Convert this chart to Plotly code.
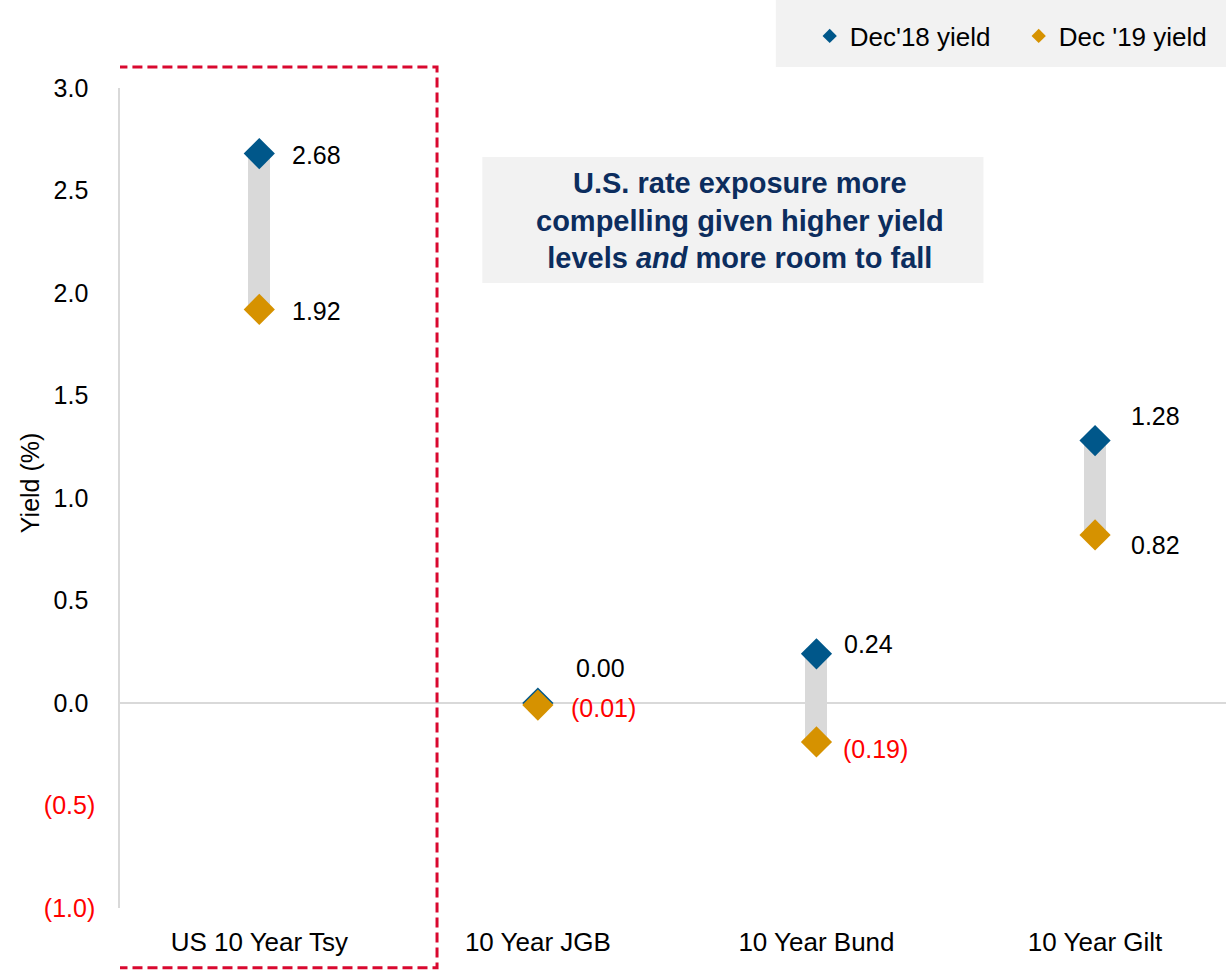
import plotly.graph_objects as go

# Government bond 10-year yields (%)
categories = ["US 10 Year Tsy", "10 Year JGB", "10 Year Bund", "10 Year Gilt"]
dec18_yield = [2.68, 0.00, 0.24, 1.28]
dec19_yield = [1.92, -0.01, -0.19, 0.82]

y_tick_values = [-1.0, -0.5, 0.0, 0.5, 1.0, 1.5, 2.0, 2.5, 3.0]

BLUE = "#00578A"
GOLD = "#D69200"
BAR_GREY = "#D9D9D9"
NEG_RED = "#FF0000"
NAVY = "#0C2D5E"
FONT = "Liberation Sans"

# label placement relative to each marker (px): (xshift, yshift)
dec18_offsets = [(31, -1), (36, 35), (26, 10), (34, 25)]
dec19_offsets = [(31, -2), (31, -3), (25, -7), (34, -10)]


def fmt_value(v):
    return f"({abs(v):.2f})" if v < 0 else f"{v:.2f}"


def fmt_tick(v):
    if v < 0:
        return f"<span style='color:{NEG_RED}'>({abs(v):.1f})</span>"
    return f"{v:.1f}\u00a0"


fig = go.Figure()

# grey connector between the two yields
fig.add_trace(go.Bar(
    x=categories,
    y=[a - b for a, b in zip(dec18_yield, dec19_yield)],
    base=dec19_yield,
    width=0.079,
    marker=dict(color=BAR_GREY, line=dict(width=0)),
    showlegend=False,
    hoverinfo="skip",
))

fig.add_trace(go.Scatter(
    x=categories, y=dec18_yield, mode="markers", name="Dec'18 yield",
    marker=dict(symbol="diamond", size=24, color=BLUE, line=dict(width=0)),
    showlegend=False,
))
fig.add_trace(go.Scatter(
    x=categories, y=dec19_yield, mode="markers", name="Dec '19 yield",
    marker=dict(symbol="diamond", size=24, color=GOLD, line=dict(width=0)),
    showlegend=False,
))

# legend entries with smaller symbols
fig.add_trace(go.Scatter(
    x=[None], y=[None], mode="markers", name="Dec'18 yield",
    marker=dict(symbol="diamond", size=11, color=BLUE),
))
fig.add_trace(go.Scatter(
    x=[None], y=[None], mode="markers", name="Dec '19 yield",
    marker=dict(symbol="diamond", size=11, color=GOLD),
))

annotations = []
for cat, vals, offs in ((categories, dec18_yield, dec18_offsets),
                        (categories, dec19_yield, dec19_offsets)):
    for c, v, (dx, dy) in zip(cat, vals, offs):
        annotations.append(dict(
            x=c, y=v, xref="x", yref="y", text=fmt_value(v),
            showarrow=False, xanchor="left", yanchor="middle",
            xshift=dx, yshift=dy,
            font=dict(family=FONT, size=25, color=NEG_RED if v < 0 else "black"),
        ))

annotations.append(dict(
    x=0.5605, y=0.838, xref="paper", yref="paper",
    text="<b>U.S. rate exposure more<br>compelling given higher yield<br>levels <i>and</i> more room to fall</b>",
    showarrow=False, xanchor="center", yanchor="middle", align="center",
    font=dict(family=FONT, size=29, color=NAVY),
))

# y-axis title
annotations.append(dict(
    x=30, y=483, xref="paper", yref="paper", text="Yield (%)",
    showarrow=False, textangle=-90, xanchor="center", yanchor="middle",
    font=dict(family=FONT, size=25, color="black"),
))
annotations[-1].update(x=(30 - 120) / 1108, y=(908 - 483) / 820)

shapes = [
    # legend panel
    dict(type="rect", xref="paper", yref="paper", x0=0.593, x1=1.0, y0=1.0256, y1=1.1073,
         fillcolor="#F2F2F2", line=dict(width=0), layer="below"),
    # callout panel
    dict(type="rect", xref="paper", yref="paper", x0=0.3276, x1=0.7807, y0=0.7622, y1=0.9159,
         fillcolor="#F2F2F2", line=dict(width=0), layer="below"),
    # highlight around the US Treasury
    dict(type="rect", xref="x", yref="paper", x0=-0.509, x1=0.638, y0=-0.073, y1=1.0256,
         line=dict(color="#D9082F", width=3, dash="10px,5px"), fillcolor="rgba(0,0,0,0)"),
]

fig.update_layout(
    width=1228, height=972,
    margin=dict(l=120, r=0, t=88, b=64),
    paper_bgcolor="white", plot_bgcolor="white",
    font=dict(family=FONT, size=25, color="black"),
    showlegend=True,
    legend=dict(
        orientation="h", x=0.6236, y=1.0634, xanchor="left", yanchor="middle",
        bgcolor="rgba(0,0,0,0)", font=dict(family=FONT, size=26, color="black"),
        entrywidth=164, entrywidthmode="pixels",
        itemclick=False, itemdoubleclick=False,
    ),
    xaxis=dict(
        type="category", range=[-0.5, 3.47], showgrid=False, zeroline=False,
        showline=False, ticks="", tickfont=dict(family=FONT, size=26, color="black"),
        ticklabelstandoff=16, fixedrange=True,
    ),
    yaxis=dict(
        range=[-1.0, 3.0], tickvals=y_tick_values,
        ticktext=[fmt_tick(v) for v in y_tick_values],
        showgrid=False, zeroline=True, zerolinecolor=BAR_GREY, zerolinewidth=2,
        showline=True, linecolor=BAR_GREY, linewidth=1.5, ticks="",
        tickfont=dict(family=FONT, size=25, color="black"), ticklabelstandoff=18,
        fixedrange=True,
    ),
    annotations=annotations,
    shapes=shapes,
    bargap=0,
)

fig.write_html("out.html")
